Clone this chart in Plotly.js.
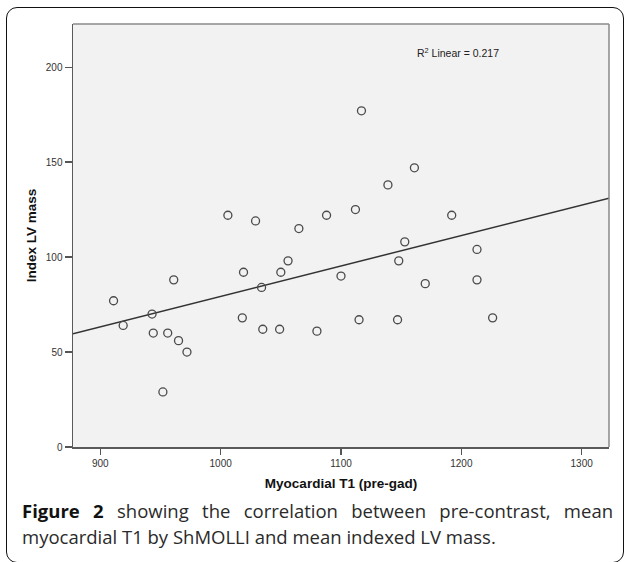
<!DOCTYPE html>
<html>
<head>
<meta charset="utf-8">
<script src="https://cdn.plot.ly/plotly-3.0.1.min.js"></script>
<style>
  html, body { margin: 0; padding: 0; background: #fff; }
  #wrap { position: relative; width: 624px; height: 562px; overflow: hidden; background: #fff; }
  #frame { position: absolute; left: 6px; top: 7px; width: 618px; height: 556px; border: 1.5px solid #111; border-radius: 11px; box-sizing: border-box; }
  #chart { position: absolute; left: 0; top: 0; width: 624px; height: 562px; }
  #caption { position: absolute; left: 22px; top: 498px; width: 591px; font-family: "Open Sans", "Noto Sans", sans-serif; font-size: 18.5px; line-height: 26px; color: #2a2a2a; }
  #caption .l1 { text-align: justify; text-align-last: justify; }
  #caption .l2 { text-align: left; }
  #caption b { color: #111; font-weight: 700; }
</style>
</head>
<body>
<div id="wrap">
  <div id="frame"></div>
  <div id="chart"></div>
  <div id="caption"><div class="l1"><b>Figure 2</b> showing the correlation between pre-contrast, mean</div><div class="l2">myocardial T1 by ShMOLLI and mean indexed LV mass.</div></div>
</div>
<script>
// Myocardial T1 (pre-gad) values
const t1 = [911, 919, 943, 944, 952, 956, 961, 965, 972,
            1006, 1018, 1019, 1029, 1034, 1035, 1049, 1050, 1056, 1065, 1080, 1088,
            1100, 1112, 1115, 1117, 1139, 1147, 1148, 1153, 1161, 1170, 1192, 1213, 1213, 1226];
// Index LV mass values
const lvMass = [77, 64, 70, 60, 29, 60, 88, 56, 50,
                122, 68, 92, 119, 84, 62, 62, 92, 98, 115, 61, 122,
                90, 125, 67, 177, 138, 67, 98, 108, 147, 86, 122, 104, 88, 68];
const xTicks = [900, 1000, 1100, 1200, 1300];
const yTicks = [0, 50, 100, 150, 200];
const xRange = [877.3, 1322.7];
const yRange = [0, 222.7];

// least-squares linear fit
const n = t1.length;
const mx = t1.reduce((a, b) => a + b, 0) / n;
const my = lvMass.reduce((a, b) => a + b, 0) / n;
let sxy = 0, sxx = 0, syy = 0;
for (let i = 0; i < n; i++) {
  sxy += (t1[i] - mx) * (lvMass[i] - my);
  sxx += (t1[i] - mx) ** 2;
  syy += (lvMass[i] - my) ** 2;
}
const slope = sxy / sxx;
const intercept = my - slope * mx;
const r2 = (sxy * sxy) / (sxx * syy);
const fitX = xRange.slice();
const fitY = fitX.map(x => intercept + slope * x);

const axisFont = { family: "Liberation Sans, Arial, sans-serif", size: 10, color: "#333" };
const titleFont = { family: "Liberation Sans, Arial, sans-serif", size: 13.5, color: "#111", weight: "bold" };

const traces = [
  {
    x: fitX, y: fitY, type: "scatter", mode: "lines",
    line: { color: "#333", width: 1.5 }, hoverinfo: "skip", showlegend: false
  },
  {
    x: t1, y: lvMass, type: "scatter", mode: "markers",
    marker: { symbol: "circle-open", size: 8, color: "#4a4a4a", line: { width: 1.3, color: "#4a4a4a" } },
    showlegend: false
  }
];

const layout = {
  width: 624, height: 562,
  margin: { l: 73, r: 15, t: 24, b: 115 },
  paper_bgcolor: "rgba(0,0,0,0)",
  plot_bgcolor: "#f2f2f2",
  showlegend: false,
  xaxis: {
    range: xRange, tickvals: xTicks, ticktext: xTicks.map(String),
    ticks: "outside", ticklen: 6, tickwidth: 1.2, tickcolor: "#555",
    showline: true, linecolor: "#5a5a5a", linewidth: 1.5,
    showgrid: false, zeroline: false, tickfont: axisFont,
    title: { text: "<b>Myocardial T1 (pre-gad)</b>", font: titleFont, standoff: 11 }
  },
  yaxis: {
    range: yRange, tickvals: yTicks, ticktext: yTicks.map(String),
    ticks: "outside", ticklen: 7, tickwidth: 1.2, tickcolor: "#555",
    showline: true, linecolor: "#5a5a5a", linewidth: 1.5,
    showgrid: false, zeroline: false, tickfont: axisFont,
    title: { text: "<b>Index LV mass</b>", font: titleFont, standoff: 6 }
  },
  shapes: [
    { type: "line", xref: "paper", yref: "paper", x0: 0, x1: 1, y0: 1, y1: 1, line: { color: "#8a8a8a", width: 1.5 } },
    { type: "line", xref: "paper", yref: "paper", x0: 1, x1: 1, y0: 0, y1: 1, line: { color: "#8a8a8a", width: 1.5 } }
  ],
  annotations: [
    {
      xref: "paper", yref: "paper", x: 0.718, y: 0.932, xanchor: "center", yanchor: "middle",
      text: "R<sup>2</sup> Linear = " + r2.toFixed(3),
      showarrow: false, font: { family: "Liberation Sans, Arial, sans-serif", size: 10.5, color: "#222" }
    }
  ]
};

Plotly.newPlot("chart", traces, layout, { displayModeBar: false, staticPlot: true });
</script>
</body>
</html>
